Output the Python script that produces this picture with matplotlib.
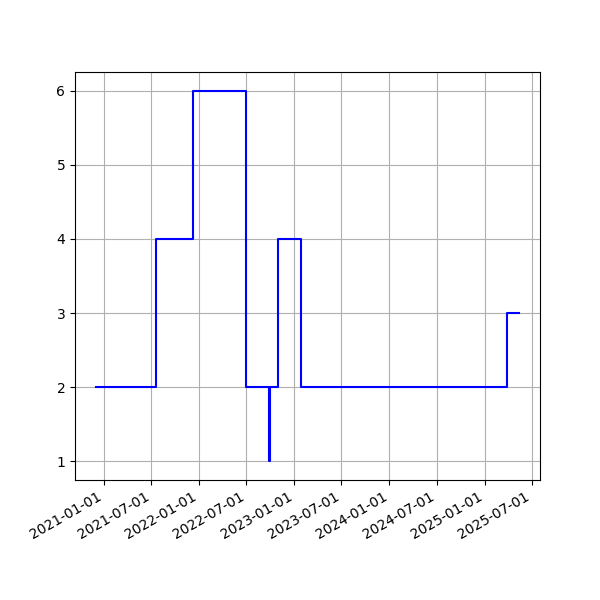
import matplotlib
matplotlib.use('Agg')
import matplotlib.pyplot as plt
import matplotlib.dates as mdates
import numpy as np

# change points of the step series (value holds until next date)
dates = np.array(['2020-12-01', '2021-07-19', '2021-12-07', '2022-06-30',
                  '2022-09-27', '2022-09-28', '2022-10-31', '2023-01-25',
                  '2025-03-28', '2025-05-12'], dtype='datetime64[D]')
values = [2, 4, 6, 2, 1, 2, 4, 2, 3, 3]

fig, ax = plt.subplots(figsize=(6, 6), dpi=100)
ax.plot(dates, values, color='blue', drawstyle='steps-post')
ax.xaxis.set_major_locator(mdates.MonthLocator(bymonth=[1, 7]))
ax.xaxis.set_major_formatter(mdates.DateFormatter('%Y-%m-%d'))
ax.grid(True)
fig.autofmt_xdate()
fig.savefig('out.png')
